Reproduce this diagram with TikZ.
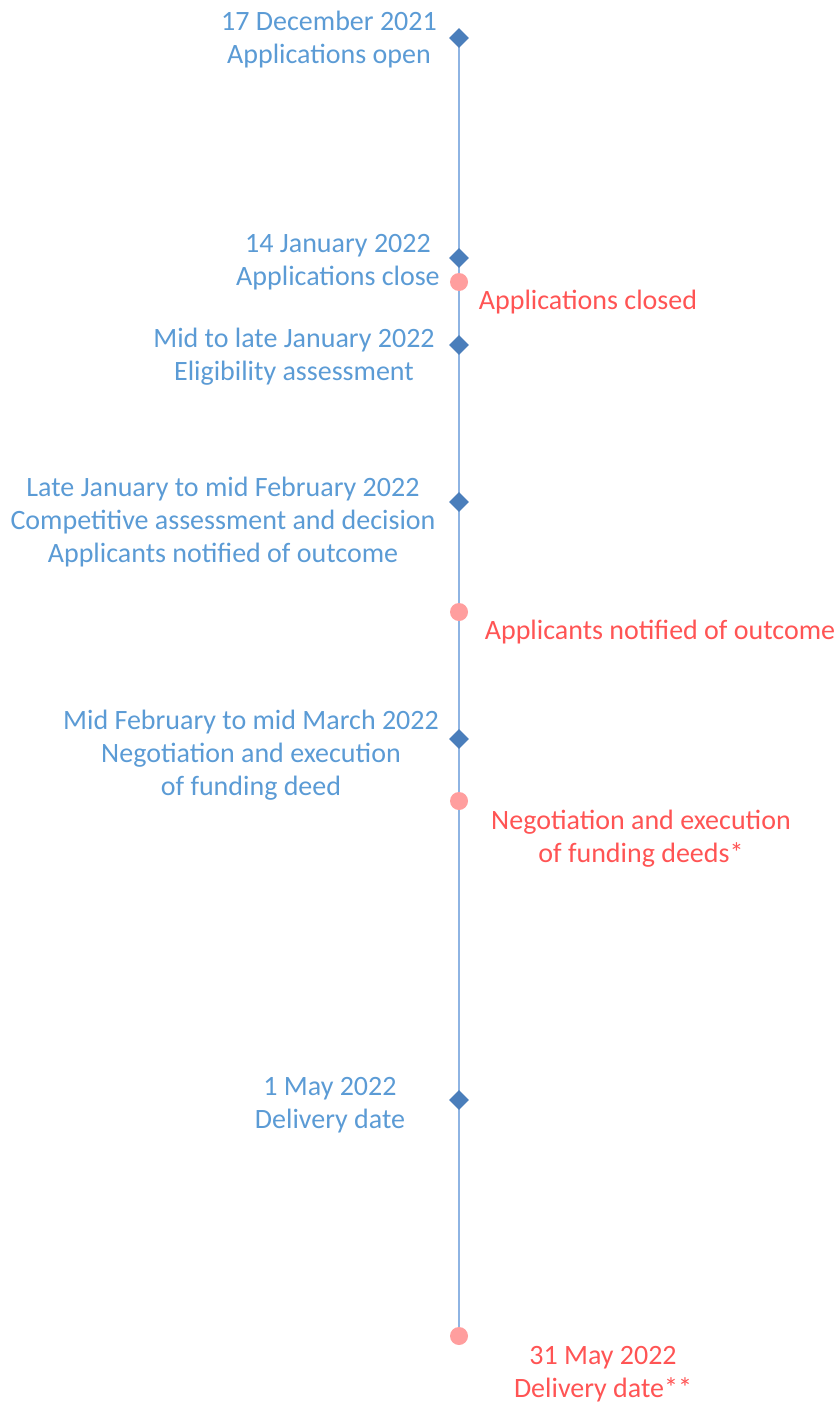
\documentclass[tikz,border=0pt]{standalone}
\usepackage{fontspec}
\setmainfont{Carlito}
\usetikzlibrary{shapes.geometric}
\definecolor{evblue}{HTML}{5B9BD5}
\definecolor{evred}{HTML}{FF5454}
\definecolor{markblue}{HTML}{4A7EBB}
\definecolor{markpink}{HTML}{FF9E9E}
\definecolor{axisblue}{HTML}{8EB4E3}
\tikzset{
  planned/.style={text=evblue, align=center, inner sep=0pt,
    font=\fontsize{28}{33}\selectfont},
  actual/.style={text=evred, align=center, inner sep=0pt,
    font=\fontsize{28}{33}\selectfont},
  tick/.style={diamond, fill=markblue, minimum size=20pt, inner sep=0pt},
  dot/.style={circle, fill=markpink, minimum size=18pt, inner sep=0pt},
  axis/.style={draw=axisblue, line width=1.4pt}
}
\begin{document}
\begin{tikzpicture}[x=1pt, y=-1pt]
\useasboundingbox (0,0) rectangle (837,1402);

% vertical time axis
\coordinate (top) at (459,38);
\coordinate (bottom) at (459,1336);
\draw[axis] (top) -- (bottom);

% planned milestones (left side)
\node[tick] (d1) at (459,38) {};
\node[tick] (d2) at (459,258) {};
\node[tick] (d3) at (459,345) {};
\node[tick] (d4) at (459,502) {};
\node[tick] (d5) at (459,739) {};
\node[tick] (d6) at (459,1100) {};

% actual milestones (right side)
\node[dot] (c1) at (459,282) {};
\node[dot] (c2) at (459,612) {};
\node[dot] (c3) at (459,801) {};
\node[dot] (c4) at (459,1336) {};

% planned labels
\node[planned] (p1) at (329,40) {17 December 2021\\Applications open};
\node[planned] (p2) at (338,262) {14 January 2022\\Applications close};
\node[planned] (p3) at (294,357) {Mid to late January 2022\\Eligibility assessment};
\node[planned] (p4) at (223,522) {Late January to mid February 2022\\Competitive assessment and decision\\Applicants notified of outcome};
\node[planned] (p5) at (251,755) {Mid February to mid March 2022\\Negotiation and execution\\of funding deed};
\node[planned] (p6) at (330,1105) {1 May 2022\\Delivery date};

% actual labels
\node[actual] (a1) at (588,302) {Applications closed};
\node[actual] (a2) at (660,632) {Applicants notified of outcome};
\node[actual] (a3) at (641,839) {Negotiation and execution\\of funding deeds*};
\node[actual] (a4) at (603,1374) {31 May 2022\\Delivery date**};
\end{tikzpicture}
\end{document}
